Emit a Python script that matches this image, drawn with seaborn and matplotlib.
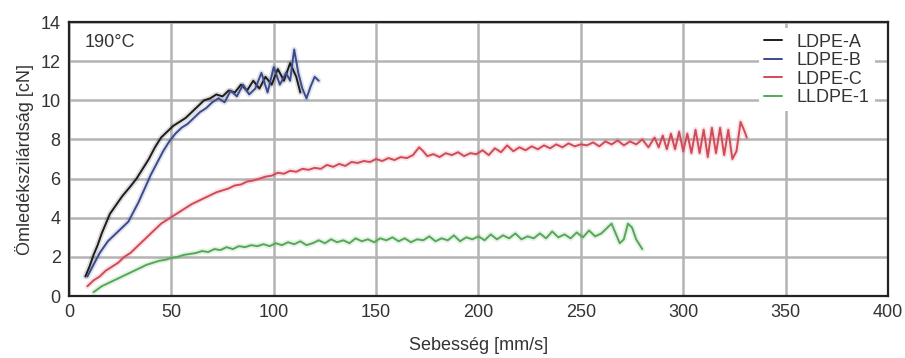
import numpy as np
import pandas as pd
import matplotlib
matplotlib.use("Agg")
import matplotlib.pyplot as plt
import seaborn as sns

# Adatok leolvasva a diagramról (sebesség [mm/s], ömledékszilárdság [cN])
ldpe_a_x = [8, 10, 12, 14, 16, 18, 20, 22, 24, 26, 28, 30,
            33, 36, 39, 42, 45, 48, 51, 54, 57, 60,
            63, 66, 69, 72, 75, 78, 81, 84, 87, 90,
            93, 96, 99, 102, 105, 108, 111,
            113]
ldpe_a_y = [1.0, 1.5, 2.1, 2.6, 3.2, 3.7, 4.2, 4.5, 4.8, 5.1, 5.35, 5.6,
            6.0, 6.5, 7.0, 7.6, 8.1, 8.4, 8.7, 8.9, 9.1, 9.4,
            9.7, 10.0, 10.1, 10.3, 10.2, 10.5, 10.4, 10.8, 10.5, 11.0,
            10.6, 11.2, 10.8, 11.6, 11.0, 11.9, 11.2,
            10.4]

ldpe_b_x = [9, 11, 13, 15, 17, 19, 21, 23, 25, 27, 29, 31,
            34, 37, 40, 43, 46, 49, 52, 55, 58, 61,
            64, 67, 70, 73, 76, 79, 82, 85, 88, 91,
            94, 97, 100, 103, 106,
            108, 110, 112, 114, 116, 118, 120, 122]
ldpe_b_y = [1.0, 1.4, 1.8, 2.2, 2.5, 2.8, 3.0, 3.2, 3.4, 3.6, 3.8, 4.2,
            4.8, 5.5, 6.2, 6.8, 7.4, 7.9, 8.3, 8.6, 8.8, 9.1,
            9.4, 9.6, 9.9, 10.1, 9.9, 10.5, 10.2, 10.8, 10.3, 10.6,
            11.4, 10.4, 11.7, 10.8, 11.4,
            11.0, 12.6, 11.4, 10.6, 10.1, 10.7, 11.2, 11.0]

ldpe_c_x = [9, 12, 15, 18, 21, 24, 27, 30, 33, 36,
            39, 42, 45, 48, 51, 54, 57, 60, 63, 66,
            69, 72, 75, 78, 81, 84, 87, 90, 93, 96,
            99, 102, 105, 108, 111, 114, 117, 120, 123, 126,
            129, 132, 135, 138, 141, 144, 147, 150, 153, 156,
            159, 162, 165, 168, 171,
            173, 175,
            178, 181, 184, 187, 190, 193, 196, 199, 202, 205,
            208, 211, 214, 217, 220, 223, 226, 229, 232, 235,
            238, 241, 244, 247, 250, 253, 256, 259, 262, 265,
            268, 271, 274, 277, 280, 283,
            286,
            288, 290, 292, 294, 296, 298, 300, 302, 304, 306,
            308, 310, 312, 314, 316, 318, 320, 322, 324, 326, 328, 330,
            331]
ldpe_c_y = [0.5, 0.8, 1.0, 1.3, 1.5, 1.7, 2.0, 2.2, 2.5, 2.8,
            3.1, 3.4, 3.7, 3.9, 4.1, 4.3, 4.5, 4.7, 4.85, 5.0,
            5.15, 5.3, 5.4, 5.5, 5.65, 5.7, 5.85, 5.9, 6.0, 6.1,
            6.15, 6.3, 6.25, 6.4, 6.35, 6.5, 6.45, 6.55, 6.5, 6.7,
            6.6, 6.75, 6.65, 6.85, 6.8, 6.9, 6.85, 7.0, 6.9, 7.05,
            6.95, 7.1, 7.05, 7.2, 7.6,
            7.4, 7.15,
            7.25, 7.1, 7.3, 7.2, 7.35, 7.15, 7.3, 7.25, 7.45, 7.2,
            7.55, 7.35, 7.7, 7.4, 7.6, 7.45, 7.65, 7.5, 7.7, 7.55,
            7.75, 7.6, 7.8, 7.65, 7.75, 7.7, 7.85, 7.65, 7.9, 7.75,
            7.95, 7.7, 7.9, 7.75, 8.0, 7.6,
            8.1,
            7.6, 8.2, 7.5, 8.3, 7.5, 8.4, 7.4, 8.3, 7.3, 8.5,
            7.3, 8.5, 7.1, 8.6, 7.3, 8.6, 7.2, 8.5, 7.0, 7.4, 8.9, 8.4,
            8.1]

lldpe_1_x = [12, 14, 16, 18, 20,
             23, 26, 29, 32, 35, 38, 41, 44, 47, 50,
             53, 56, 59, 62, 65, 68, 71, 74, 77, 80,
             83, 86, 89, 92, 95, 98, 101, 104, 107, 110,
             113, 116, 119, 122, 125, 128, 131, 134, 137, 140,
             143, 146, 149, 152, 155, 158, 161, 164, 167, 170,
             173, 176, 179, 182, 185, 188, 191, 194, 197, 200,
             203, 206, 209, 212, 215, 218, 221, 224, 227, 230,
             233, 236, 239, 242, 245, 248, 251, 254, 257, 260,
             263, 265, 267, 269, 271, 273, 275, 277, 280]
lldpe_1_y = [0.2, 0.35, 0.5, 0.6, 0.7,
             0.85, 1.0, 1.15, 1.3, 1.45, 1.6, 1.7, 1.8, 1.85, 1.95,
             2.0, 2.1, 2.15, 2.2, 2.3, 2.25, 2.4, 2.35, 2.5, 2.4,
             2.55, 2.5, 2.6, 2.55, 2.65, 2.55, 2.7, 2.6, 2.75, 2.65,
             2.8, 2.6, 2.7, 2.85, 2.7, 2.9, 2.75, 2.85, 2.7, 2.95,
             2.8, 2.9, 2.75, 2.95, 2.85, 3.0, 2.8, 2.95, 2.75, 2.9,
             2.85, 3.05, 2.8, 2.95, 2.85, 3.1, 2.8, 3.0, 2.9, 3.05,
             2.85, 3.15, 2.9, 3.1, 2.95, 3.2, 2.9, 3.05, 2.95, 3.2,
             2.95, 3.3, 3.0, 3.15, 2.95, 3.25, 3.0, 3.35, 3.05, 3.2,
             3.5, 3.7, 3.2, 2.7, 2.9, 3.7, 3.5, 2.9, 2.4]

sorozatok = ["LDPE-A", "LDPE-B", "LDPE-C", "LLDPE-1"]
szinek = ["#1c1c1c", "#3b4a8c", "#d24a58", "#55a858"]
x_tickek = [0, 50, 100, 150, 200, 250, 300, 350, 400]
y_tickek = [0, 2, 4, 6, 8, 10, 12, 14]

# Hosszú formátumú tábla
adatok = [(ldpe_a_x, ldpe_a_y), (ldpe_b_x, ldpe_b_y), (ldpe_c_x, ldpe_c_y), (lldpe_1_x, lldpe_1_y)]
df = pd.concat([pd.DataFrame({"seb": x, "szil": y, "minta": nev})
                for (x, y), nev in zip(adatok, sorozatok)], ignore_index=True)

sns.set_style("whitegrid")
plt.rcParams["font.family"] = ["Liberation Sans", "DejaVu Sans"]

fig = plt.figure(figsize=(9.05, 3.58), dpi=100)
ax = fig.add_axes([0.0762, 0.173, 0.905, 0.7655])

# halvány "glória" a vonalak körül, mint a szkennelt eredetin
for nev, szin in zip(sorozatok, szinek):
    resz = df[df["minta"] == nev]
    ax.plot(resz["seb"], resz["szil"], color=szin, lw=4, alpha=0.15, zorder=2)

sns.lineplot(data=df, x="seb", y="szil", hue="minta", palette=szinek,
             estimator=None, sort=False, linewidth=1.4, ax=ax, zorder=3)

ax.set_xlim(0, 400)
ax.set_ylim(0, 14)
ax.set_xticks(x_tickek)
ax.set_yticks(y_tickek)
ax.grid(True, color="#b4b4b4", linewidth=1.8)
for s in ax.spines.values():
    s.set_color("#222222")
    s.set_linewidth(1.6)
ax.tick_params(axis="both", labelsize=13, colors="#333333", length=0, pad=6)
ax.set_xlabel("Sebesség [mm/s]", fontsize=13, color="#333333", labelpad=11)
ax.set_ylabel("Ömledékszilárdság [cN]", fontsize=13, color="#333333", labelpad=5)

ax.text(0.019, 0.925, "190°C", transform=ax.transAxes, fontsize=13,
        color="#333333", va="center", ha="left")

leg = ax.legend(loc="upper right", bbox_to_anchor=(0.995, 1.01), fontsize=13,
                handlelength=1.0, handletextpad=0.8, labelspacing=0.08,
                frameon=True, borderpad=0.3)
leg.get_frame().set_edgecolor("none")
leg.get_frame().set_facecolor("white")
leg.get_frame().set_alpha(1)
for t in leg.get_texts():
    t.set_color("#333333")

fig.savefig("out.png", dpi=100)
